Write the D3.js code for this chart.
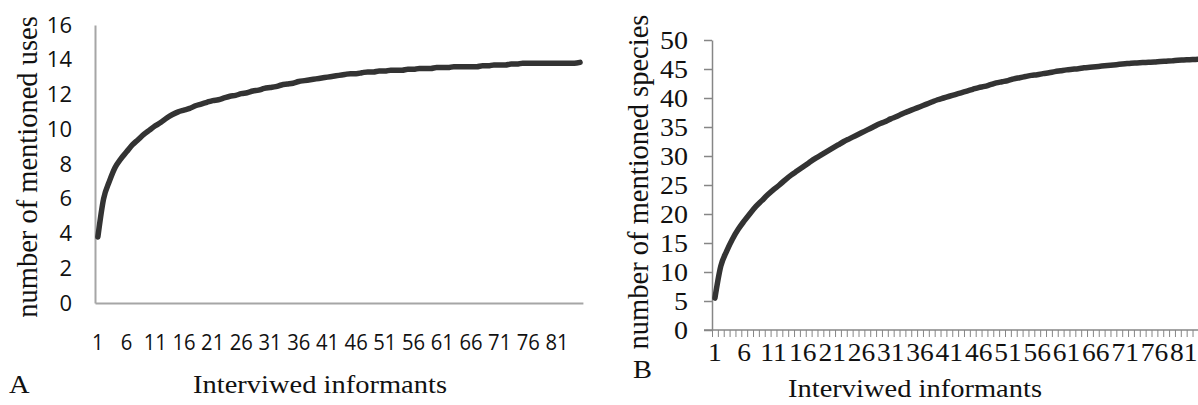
<!DOCTYPE html>
<html>
<head>
<meta charset="utf-8">
<script src="https://cdn.jsdelivr.net/npm/d3@7"></script>
<style>
  body { margin: 0; background: #fff; }
  svg { display: block; }
</style>
</head>
<body>
<svg id="chart" width="1198" height="405"></svg>
<script>
// informant number, 1..85
const informants = d3.range(1, 86);

// A: cumulative number of mentioned uses
const usesValues = [
  3.8, 6.0, 7.0, 7.8, 8.3, 8.7, 9.1, 9.4, 9.7, 9.95,
  10.2, 10.4, 10.65, 10.85, 11.0, 11.1, 11.2, 11.35, 11.45, 11.55,
  11.65, 11.7, 11.8, 11.9, 11.95, 12.05, 12.1, 12.2, 12.25, 12.35,
  12.4, 12.45, 12.55, 12.6, 12.65, 12.75, 12.8, 12.85, 12.9, 12.95,
  13.0, 13.05, 13.1, 13.15, 13.2, 13.2, 13.25, 13.3, 13.3, 13.35,
  13.35, 13.4, 13.4, 13.4, 13.45, 13.45, 13.5, 13.5, 13.5, 13.55,
  13.55, 13.55, 13.6, 13.6, 13.6, 13.6, 13.6, 13.65, 13.65, 13.7,
  13.7, 13.7, 13.75, 13.75, 13.8, 13.8, 13.8, 13.8, 13.8, 13.8,
  13.8, 13.8, 13.8, 13.8, 13.85
];

// B: cumulative number of mentioned species
const speciesValues = [
  5.5, 11.0, 13.6, 15.7, 17.4, 18.8, 20.1, 21.3, 22.3, 23.3,
  24.2, 25.0, 25.9, 26.7, 27.4, 28.1, 28.8, 29.5, 30.1, 30.7,
  31.3, 31.9, 32.5, 33.0, 33.5, 34.0, 34.5, 35.0, 35.5, 35.9,
  36.4, 36.8, 37.3, 37.7, 38.1, 38.5, 38.9, 39.3, 39.7, 40.0,
  40.3, 40.6, 40.9, 41.2, 41.5, 41.8, 42.0, 42.3, 42.6, 42.8,
  43.0, 43.3, 43.5, 43.7, 43.9, 44.0, 44.2, 44.35, 44.55, 44.7,
  44.85, 44.95, 45.05, 45.2, 45.3, 45.4, 45.5, 45.6, 45.7, 45.8,
  45.9, 46.0, 46.05, 46.1, 46.15, 46.2, 46.3, 46.35, 46.4, 46.5,
  46.55, 46.6, 46.65, 46.7, 46.75
];

const usesTicks = [0, 2, 4, 6, 8, 10, 12, 14, 16];
const speciesTicks = [0, 5, 10, 15, 20, 25, 30, 35, 40, 45, 50];
const labelledInformants = informants.filter((d) => (d - 1) % 5 === 0);

const svg = d3.select("#chart");
svg.append("rect").attr("width", 1198).attr("height", 405).attr("fill", "#fff");

const lineColor = "#333";
const textColor = "#111";

// ---------- chart A ----------
const xA = d3.scaleBand().domain(informants).range([95, 95 + 85 * 5.74]).padding(0);
const yA = d3.scaleLinear().domain([0, 16]).range([303, 25]);

const gA = svg.append("g");

gA.append("g")
  .attr("transform", "translate(95,0)")
  .call(d3.axisLeft(yA).tickValues(usesTicks).tickSize(0).tickPadding(23))
  .call((g) => {
    g.select(".domain").attr("stroke", "#a6a6a6").attr("stroke-width", 2);
    g.selectAll("text")
      .attr("font-family", "'Open Sans', sans-serif")
      .attr("font-size", 22)
      .attr("fill", textColor);
  });

gA.append("g")
  .attr("transform", "translate(0,303)")
  .call(d3.axisBottom(xA).tickValues(labelledInformants).tickSize(0).tickPadding(31))
  .call((g) => {
    g.select(".domain").attr("stroke", "#a6a6a6").attr("stroke-width", 2);
    g.selectAll("text")
      .attr("transform", "scale(0.92,1)")
      .attr("font-family", "'Open Sans', sans-serif")
      .attr("font-size", 22)
      .attr("fill", textColor);
  });

const lineA = d3.line()
  .x((d, i) => xA(informants[i]) + xA.bandwidth() / 2)
  .y((d) => yA(d))
  .curve(d3.curveMonotoneX);

gA.append("path")
  .datum(usesValues)
  .attr("d", lineA)
  .attr("fill", "none")
  .attr("stroke", lineColor)
  .attr("stroke-width", 5.5)
  .attr("stroke-linecap", "round")
  .attr("stroke-linejoin", "round");

gA.append("text")
  .attr("transform", "translate(37,167) rotate(-90)")
  .attr("text-anchor", "middle")
  .attr("font-family", "'Liberation Serif', serif")
  .attr("font-size", 28.5)
  .attr("fill", textColor)
  .text("number of mentioned uses");

gA.append("text")
  .attr("transform", "translate(320,393) scale(1.14,1)")
  .attr("text-anchor", "middle")
  .attr("font-family", "'Liberation Serif', serif")
  .attr("font-size", 25)
  .attr("fill", textColor)
  .text("Interviwed informants");

gA.append("text")
  .attr("transform", "translate(9,393) scale(1.14,1)")
  .attr("font-family", "'Liberation Serif', serif")
  .attr("font-size", 25)
  .attr("fill", textColor)
  .text("A");

// ---------- chart B ----------
const xB = d3.scaleBand().domain(informants).range([712, 712 + 85 * 5.86]).padding(0);
const xBEdges = d3.scaleLinear().domain([0, 85]).range(xB.range());
const yB = d3.scaleLinear().domain([0, 50]).range([330, 40]);

const gB = svg.append("g");
const axisB = "#868686";

gB.append("g")
  .attr("transform", "translate(712,0)")
  .call(d3.axisLeft(yB).tickValues(speciesTicks).tickSizeInner(8).tickSizeOuter(0))
  .call((g) => {
    g.select(".domain").attr("stroke", axisB).attr("stroke-width", 1.5);
    g.selectAll(".tick line").attr("stroke", axisB).attr("stroke-width", 1.5);
    g.selectAll("text")
      .attr("x", 0)
      .attr("transform", "translate(-24,0) scale(1.12,1)")
      .attr("font-family", "'Liberation Serif', serif")
      .attr("font-size", 25)
      .attr("fill", textColor);
  });

// small tick marks between informants
gB.append("g")
  .attr("transform", "translate(0,330)")
  .call(d3.axisBottom(xBEdges).tickValues(d3.range(0, 86)).tickSizeInner(7).tickSizeOuter(0).tickFormat(""))
  .call((g) => {
    g.select(".domain").remove();
    g.selectAll(".tick line").attr("stroke", axisB).attr("stroke-width", 1);
  });

gB.append("g")
  .attr("transform", "translate(0,330)")
  .call(d3.axisBottom(xB).tickValues(labelledInformants).tickSize(0).tickPadding(13))
  .call((g) => {
    g.select(".domain").remove();
    g.selectAll("text")
      .attr("transform", "scale(1.1,1)")
      .attr("font-family", "'Liberation Serif', serif")
      .attr("font-size", 25)
      .attr("fill", textColor);
  });

gB.append("line")
  .attr("x1", 704).attr("x2", xB.range()[1])
  .attr("y1", yB(0)).attr("y2", yB(0))
  .attr("stroke", axisB).attr("stroke-width", 1.5);

const lineB = d3.line()
  .x((d, i) => xB(informants[i]) + xB.bandwidth() / 2)
  .y((d) => yB(d))
  .curve(d3.curveMonotoneX);

gB.append("path")
  .datum(speciesValues)
  .attr("d", lineB)
  .attr("fill", "none")
  .attr("stroke", lineColor)
  .attr("stroke-width", 5.5)
  .attr("stroke-linecap", "round")
  .attr("stroke-linejoin", "round");

gB.append("text")
  .attr("transform", "translate(648,182) rotate(-90)")
  .attr("text-anchor", "middle")
  .attr("font-family", "'Liberation Serif', serif")
  .attr("font-size", 28.5)
  .attr("fill", textColor)
  .text("number of mentioned species");

gB.append("text")
  .attr("transform", "translate(915,397) scale(1.14,1)")
  .attr("text-anchor", "middle")
  .attr("font-family", "'Liberation Serif', serif")
  .attr("font-size", 25)
  .attr("fill", textColor)
  .text("Interviwed informants");

gB.append("text")
  .attr("transform", "translate(633,378) scale(1.14,1)")
  .attr("font-family", "'Liberation Serif', serif")
  .attr("font-size", 25)
  .attr("fill", textColor)
  .text("B");
</script>
</body>
</html>
